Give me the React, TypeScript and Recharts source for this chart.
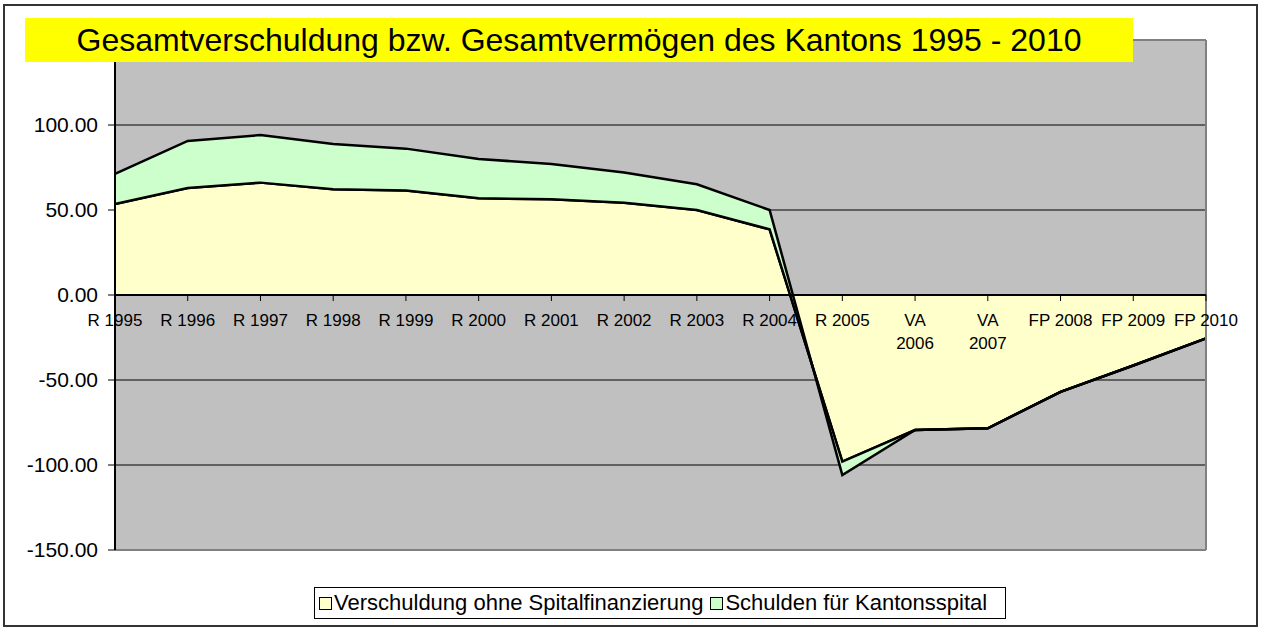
import React from "react";
import {
  ComposedChart,
  Area,
  Line,
  XAxis,
  YAxis,
  CartesianGrid,
  ReferenceLine,
} from "recharts";

const categories = [
  "R 1995",
  "R 1996",
  "R 1997",
  "R 1998",
  "R 1999",
  "R 2000",
  "R 2001",
  "R 2002",
  "R 2003",
  "R 2004",
  "R 2005",
  "VA\n2006",
  "VA\n2007",
  "FP 2008",
  "FP 2009",
  "FP 2010",
];

// Verschuldung ohne Spitalfinanzierung (Mio.)
const ohneSpital = [
  53.5, 62.9, 66.1, 62.2, 61.4, 56.9, 56.3, 54.3, 50.0, 38.6, -98.0, -79.4,
  -78.4, -57.0, -41.5, -25.5,
];

// Schulden für Kantonsspital (stacked on top)
const kantonsspital = [
  17.7, 27.7, 28.0, 26.6, 24.7, 23.1, 20.8, 17.7, 15.1, 11.4, -7.9, 0, 0, 0,
  0, 0,
];

const yTicks = [-150, -100, -50, 0, 50, 100];
const Y_MIN = -150;
const Y_MAX = 150;

const FONT = "'Liberation Sans', Arial, sans-serif";
const W = 1263;
const H = 630;
const PLOT_TOP = 40;
const PLOT_BOTTOM = 550;

const data = categories.map((c, i) => ({
  cat: c,
  ohne: ohneSpital[i],
  spital: kantonsspital[i],
}));

// x labels sit under the zero line, not under the plot
const zeroFromBottom =
  ((PLOT_BOTTOM - PLOT_TOP) * (0 - Y_MIN)) / (Y_MAX - Y_MIN);

function CatTick(props: any) {
  const { x, y, payload } = props;
  const zy = y - zeroFromBottom;
  const lines = String(payload.value).split("\n");
  return (
    <g>
      <line x1={x} x2={x} y1={zy} y2={zy + 6} stroke="#000" strokeWidth={1} />
      {lines.map((t, i) => (
        <text
          key={i}
          x={x}
          y={zy + 31 + i * 23}
          textAnchor="middle"
          fontSize={17}
          fontFamily={FONT}
          fill="#000"
        >
          {t}
        </text>
      ))}
    </g>
  );
}

function LegendBox() {
  const items = [
    { name: "Verschuldung ohne Spitalfinanzierung", color: "#FFFFCC" },
    { name: "Schulden für Kantonsspital", color: "#CCFFCC" },
  ];
  return (
    <div
      style={{
        position: "absolute",
        left: 314,
        top: 587,
        width: 692,
        height: 32,
        boxSizing: "border-box",
        border: "1px solid #000",
        background: "#fff",
        display: "flex",
        alignItems: "center",
        justifyContent: "flex-start",
        paddingLeft: 4,
        gap: 7,
        fontFamily: FONT,
        fontSize: 22,
        color: "#000",
        whiteSpace: "nowrap",
      }}
    >
      {items.map((it) => (
        <div key={it.name} style={{ display: "flex", alignItems: "center" }}>
          <span
            style={{
              display: "inline-block",
              width: 11,
              height: 11,
              border: "1px solid #000",
              background: it.color,
              marginRight: 2,
            }}
          />
          <span>{it.name}</span>
        </div>
      ))}
    </div>
  );
}

export default function App() {
  return (
    <div
      style={{
        position: "absolute",
        left: 0,
        top: 0,
        width: W,
        height: H,
        background: "#fff",
        fontFamily: FONT,
      }}
    >
      <div
        style={{
          position: "absolute",
          left: 3,
          top: 4,
          width: 1255,
          height: 623,
          boxSizing: "border-box",
          border: "2px solid #333",
        }}
      />
      <ComposedChart
        width={W}
        height={H}
        data={data}
        margin={{ top: PLOT_TOP, right: W - 1206, left: 15, bottom: H - PLOT_BOTTOM - 30 }}
      >
        <CartesianGrid
          vertical={false}
          stroke="#000"
          fill="#C0C0C0"
          fillOpacity={1}
        />
        <XAxis
          dataKey="cat"
          height={30}
          axisLine={false}
          tickLine={false}
          tickSize={0}
          tickMargin={0}
          interval={0}
          tick={<CatTick />}
        />
        <YAxis
          width={100}
          domain={[Y_MIN, Y_MAX]}
          ticks={yTicks}
          interval={0}
          tickFormatter={(v: number) => v.toFixed(2)}
          tick={{ fontSize: 21, fill: "#000", fontFamily: FONT }}
          tickSize={7}
          tickMargin={10}
          axisLine={{ stroke: "#000", strokeWidth: 2 }}
          tickLine={{ stroke: "#000" }}
        />
        <Area
          type="linear"
          dataKey="ohne"
          stackId="a"
          fill="#FFFFCC"
          fillOpacity={1}
          stroke="#000"
          strokeWidth={2.5}
          isAnimationActive={false}
        />
        <Area
          type="linear"
          dataKey="spital"
          stackId="a"
          fill="#CCFFCC"
          fillOpacity={1}
          stroke="#000"
          strokeWidth={2.5}
          isAnimationActive={false}
        />
        {/* outline of the yellow series, drawn again so the green fill does not hide it */}
        <Line
          type="linear"
          dataKey="ohne"
          stroke="#000"
          strokeWidth={2.5}
          dot={false}
          activeDot={false}
          isAnimationActive={false}
        />
        <ReferenceLine y={Y_MAX} stroke="#808080" strokeWidth={2} />
        <ReferenceLine y={Y_MIN} stroke="#808080" strokeWidth={2} />
        <ReferenceLine x="FP 2010" stroke="#808080" strokeWidth={2} />
        <ReferenceLine y={0} stroke="#000" strokeWidth={2} />
      </ComposedChart>
      <div
        style={{
          position: "absolute",
          left: 25,
          top: 18,
          width: 1108,
          height: 44,
          background: "#FFFF00",
          display: "flex",
          alignItems: "center",
          justifyContent: "center",
          fontSize: 32,
          color: "#000",
          fontFamily: FONT,
          whiteSpace: "nowrap",
        }}
      >
        Gesamtverschuldung bzw. Gesamtvermögen des Kantons 1995 - 2010
      </div>
      <LegendBox />
    </div>
  );
}
